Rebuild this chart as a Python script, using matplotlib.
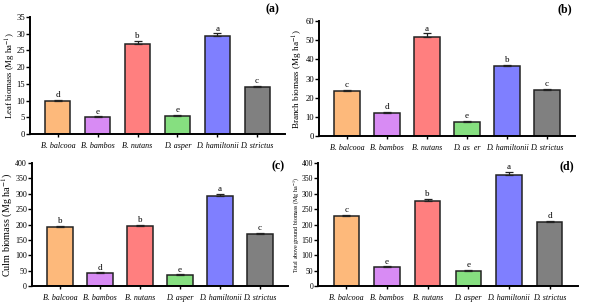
import matplotlib.pyplot as plt
import numpy as np

plt.rcParams['font.family'] = ['Liberation Serif', 'DejaVu Serif']
plt.rcParams['mathtext.fontset'] = 'stix'

species = ['B. balcooa', 'B. bambos', 'B. nutans', 'D. asper', 'D. hamiltonii', 'D. strictus']
tick_b = ['B. balcooa', 'B. bambos', 'B. nutans', 'D. as  er', 'D. hamiltonii', 'D. strictus']
colors = ['#FDB97B', '#D88BF4', '#FF7F7F', '#86DF80', '#7F7FFF', '#808080']

leaf = [10.0, 5.0, 27.0, 5.4, 29.3, 14.0]
leaf_err = [0.3, 0.3, 0.8, 0.3, 0.8, 0.5]
leaf_let = ['d', 'e', 'b', 'e', 'a', 'c']

branch = [23.5, 12.0, 51.5, 7.2, 36.5, 24.0]
branch_err = [0.5, 0.7, 2.0, 0.6, 0.7, 0.5]
branch_let = ['c', 'd', 'a', 'e', 'b', 'c']

culm = [193, 43, 196, 36, 293, 169]
culm_err = [3, 2, 3, 2, 7, 3]
culm_let = ['b', 'd', 'b', 'e', 'a', 'c']

total = [227, 61, 276, 49, 361, 207]
total_err = [5, 3, 8, 3, 10, 5]
total_let = ['c', 'e', 'b', 'e', 'a', 'd']

W, H = 589, 304
fig = plt.figure(figsize=(W / 100, H / 100), dpi=100)


def px_axes(left, right, top, bottom):
    return fig.add_axes([left / W, 1 - bottom / H, (right - left) / W, (bottom - top) / H])


panels = [
    # data, err, letters, ticks, ymax, ystep, ylabel, size, label x px, ytick size, tag, box (l, r, t, b), tag pos
    (leaf, leaf_err, leaf_let, species, 35, 5, 'Leaf biomass (Mg ha$^{-1}$)', 6.3, 10.5, 6.2, '(a)', (30, 285, 17, 134), (272, 9)),
    (branch, branch_err, branch_let, tick_b, 60, 10, 'Branch biomass (Mg ha$^{-1}$)', 6.6, 298, 6.2, '(b)', (319, 575, 21, 136), (565, 9)),
    (culm, culm_err, culm_let, species, 400, 50, 'Culm biomass (Mg ha$^{-1}$)', 7.3, 7, 5.8, '(c)', (32, 288, 163, 286), (278, 166)),
    (total, total_err, total_let, species, 400, 50, 'Total above ground biomass (Mg ha$^{-1}$)', 4.3, 296.5, 5.5, '(d)', (318, 578, 163, 286), (567, 166)),
]

x = np.arange(len(species))
for vals, err, lets, ticks, ymax, ystep, ylab, ylsize, ylx, ytsize, tag, box, tpos in panels:
    ax = px_axes(*box)
    ax.bar(x, vals, width=0.63, color=colors, edgecolor='#222222', linewidth=1.1, zorder=2)
    ax.errorbar(x, vals, yerr=[np.zeros(len(vals)), err], fmt='none', ecolor='#222222',
                elinewidth=0.9, capsize=3, capthick=0.9, zorder=3)
    for xi, v, e, l in zip(x, vals, err, lets):
        ax.text(xi, v + e + ymax * 0.005, l, ha='center', va='bottom', fontsize=6.5)
    ax.set_xlim(-0.7, 5.7)
    ax.set_ylim(0, ymax)
    ax.set_yticks(np.arange(0, ymax + ystep / 2, ystep))
    ax.set_xticks(x)
    ax.set_xticklabels(ticks, fontstyle='italic', fontsize=5.8)
    ax.tick_params(axis='y', labelsize=ytsize, length=3, width=1, pad=0.6)
    ax.tick_params(axis='x', length=2.5, width=1, pad=3)
    ax.spines['top'].set_visible(False)
    ax.spines['right'].set_visible(False)
    ax.spines['left'].set_linewidth(1.4)
    ax.spines['bottom'].set_linewidth(1.4)
    ax.set_ylabel(ylab, fontsize=ylsize)
    ax.yaxis.set_label_coords((ylx - box[0]) / (box[1] - box[0]), 0.5)
    ax.yaxis.label.set_va('center')
    fig.text(tpos[0] / W, 1 - tpos[1] / H, tag, ha='center', va='center', fontsize=8.5, fontweight='bold')

fig.savefig('out.png', dpi=100)
